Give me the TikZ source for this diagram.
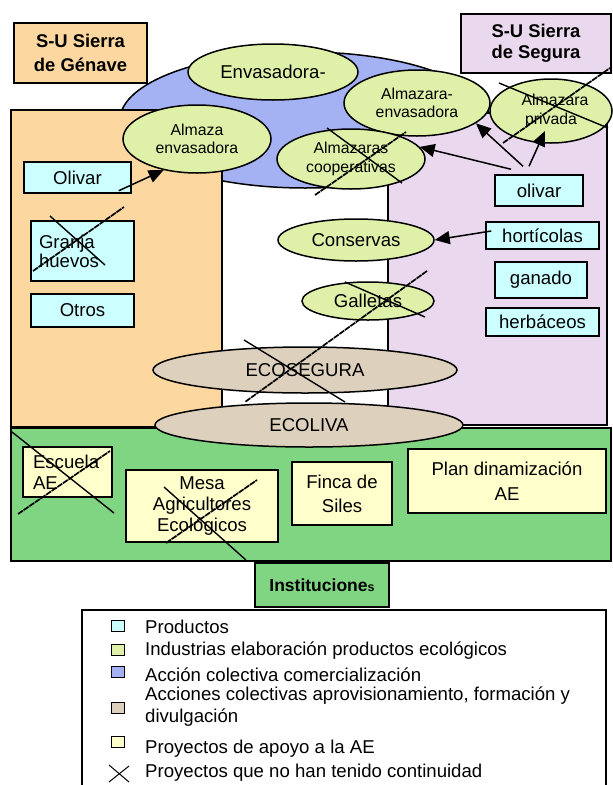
\documentclass[tikz,border=0pt]{standalone}
\usepackage{fontspec}
\setmainfont{Liberation Sans}
\usetikzlibrary{shapes.geometric,arrows.meta}
\definecolor{orangef}{RGB}{252,216,160}
\definecolor{lavf}{RGB}{234,217,238}
\definecolor{cyanf}{RGB}{204,255,255}
\definecolor{yellowf}{RGB}{255,255,204}
\definecolor{indf}{RGB}{223,240,168}
\definecolor{tanf}{RGB}{221,208,188}
\definecolor{bluef}{RGB}{164,178,244}
\definecolor{greenf}{RGB}{128,213,130}
\begin{document}
\begin{tikzpicture}[x=1pt,y=-1pt,
  big/.style={font=\fontsize{18.6}{21}\selectfont},
  small/.style={font=\fontsize{15.8}{18.5}\selectfont},
  panel/.style={draw, line width=1.5pt, inner sep=0pt},
  box/.style={draw, line width=1.5pt, inner sep=1pt, align=center, big},
  prod/.style={box, fill=cyanf},
  proj/.style={box, fill=yellowf},
  ind/.style={ellipse, draw, line width=1.5pt, fill=indf, inner sep=0pt, align=center},
  coll/.style={ellipse, draw, line width=1.5pt, fill=tanf, inner sep=0pt, align=center, big},
  titlebox/.style={draw, line width=1.5pt, inner sep=1pt, align=center, font=\bfseries\fontsize{18.4}{24}\selectfont},
  arr/.style={line width=1.5pt, -{Triangle[length=15pt,width=13pt]}},
  crossl/.style={line width=1.4pt},
  crossd/.style={line width=1.7pt, dash pattern=on 6pt off 0.8pt},
  legsq/.style={draw, line width=1.5pt, minimum width=13pt, minimum height=11pt, inner sep=0pt},
  legtext/.style={anchor=west, inner sep=0pt, font=\fontsize{18.6}{22}\selectfont, align=left},
]
\useasboundingbox (0,0) rectangle (613,785);

% collective commercialisation (blue)
\node[ellipse, draw, line width=1.5pt, fill=bluef, minimum width=370pt, minimum height=136pt, inner sep=0pt] (blue) at (305,120) {};

% panels
\node[panel, fill=orangef, minimum width=211pt, minimum height=317pt] (panelL) at (116.5,268.5) {};
\node[panel, fill=lavf, minimum width=219pt, minimum height=312pt] (panelR) at (497.5,269) {};
\node[panel, fill=greenf, minimum width=600pt, minimum height=133pt] (panelG) at (311,494.5) {};

% titles
\node[titlebox, fill=orangef, minimum width=133pt, minimum height=60pt] (titleL) at (80.5,53) {S-U Sierra\\de Génave};
\node[titlebox, fill=lavf, minimum width=150pt, minimum height=59pt, font=\bfseries\fontsize{18.4}{21}\selectfont] (titleR) at (536,43.5) {S-U Sierra\\de Segura};
\node[draw, line width=1.5pt, fill=greenf, minimum width=134pt, minimum height=44pt, inner sep=0pt, font=\bfseries\fontsize{17.5}{20}\selectfont] (inst) at (322,585) {Institucione{\fontsize{12.5}{14}\selectfont s}};

% industries (green-yellow ellipses)
\node[ind, big, minimum width=170pt, minimum height=56pt] (envas) at (273,72) {Envasadora-};
\node[ind, small, minimum width=148pt, minimum height=68pt] (almazaEnv) at (197,139) {Almaza\\envasadora};
\node[ind, small, minimum width=146pt, minimum height=66pt] (almazaraEnv) at (417,103) {Almazara-\\envasadora};
\node[ind, small, minimum width=122pt, minimum height=64pt] (privada) at (551,111) {\hspace*{8pt}Almazara\\privada};
\node[ind, small, minimum width=148pt, minimum height=60pt] (coop) at (351,159) {Almazaras\\cooperativas};
\node[ind, big, minimum width=156pt, minimum height=42pt] (conservas) at (356,240) {Conservas};
\node[ind, big, minimum width=132pt, minimum height=38pt] (galletas) at (368,301) {Galletas};

% collective actions (tan ellipses)
\node[coll, minimum width=304pt, minimum height=46pt] (ecoseg) at (305,370) {ECOSEGURA};
\node[coll, minimum width=308pt, minimum height=44pt] (ecoliva) at (309,425) {ECOLIVA};

% products
\node[prod, minimum width=107pt, minimum height=31pt] (olivarL) at (77.5,177.5) {Olivar};
\node[prod, minimum width=103pt, minimum height=60pt, text width=87pt, align=left, font=\fontsize{18.6}{19}\selectfont] (granja) at (82.5,251) {Granja\\huevos};
\node[prod, minimum width=103pt, minimum height=33pt] (otros) at (82.5,310.5) {Otros};
\node[prod, minimum width=88pt, minimum height=31pt] (olivarR) at (539,190.5) {olivar};
\node[prod, minimum width=113pt, minimum height=27pt] (hort) at (542.5,235.5) {hortícolas};
\node[prod, minimum width=92pt, minimum height=36pt] (ganado) at (541,280) {ganado};
\node[prod, minimum width=113pt, minimum height=28pt] (herb) at (542.5,322) {herbáceos};

% projects
\node[proj, minimum width=89pt, minimum height=50pt, text width=69pt, align=left] (escuela) at (67.5,472) {Escuela\\AE};
\node[proj, minimum width=152pt, minimum height=72pt] (mesa) at (202,506) {Mesa\\Agricultores\\Ecológicos};
\node[proj, minimum width=100pt, minimum height=63pt, font=\fontsize{18.6}{24}\selectfont] (finca) at (342,493.5) {Finca de\\Siles};
\node[proj, minimum width=198pt, minimum height=64pt, font=\fontsize{18.6}{25}\selectfont] (plan) at (507,481) {Plan dinamización\\AE};

% arrows
\draw[arr] ([xshift=-13pt,yshift=3pt]olivarL.south east) -- (almazaEnv.-137);
\draw[arr] ([xshift=-28pt,yshift=5pt]olivarR.north) -- (coop.10);
\draw[arr] ([xshift=-16pt,yshift=8pt]olivarR.north) -- (almazaraEnv.-19);
\draw[arr] ([xshift=-10pt,yshift=8pt]olivarR.north) -- ([xshift=-6pt,yshift=-20pt]privada.center);
\draw[arr] ([xshift=6pt,yshift=4.5pt]hort.west) -- (conservas.east);

% crosses: projects without continuity
\draw[crossl] (499,83) -- (608,128);
\draw[crossd] (503,143) -- (610,68);
\draw[crossl] (327,128) -- (402,183);
\draw[crossd] (315,195) -- (406,132);
\draw[crossl] (50,216) -- (105,265);
\draw[crossd] (33,271) -- (124,207);
\draw[crossl] (345,282) -- (425,317);
\draw[crossd] (427,271) -- (245,402);
\draw[crossl] (244,340) -- (345,402);
\draw[crossl] (12,432) -- (114,513);
\draw[crossd] (18,514) -- (110,451);
\draw[crossl] (164,487) -- (246,560);
\draw[crossd] (166,543) -- (257,480);

% legend
\draw[line width=1.3pt] (82,790) -- (82,610) -- (606,610) -- (606,790);
\node[legsq, fill=cyanf] (lq1) at (118,626) {};
\node[legsq, fill=indf] (lq2) at (118,650) {};
\node[legsq, fill=bluef] (lq3) at (118,672) {};
\node[legsq, fill=tanf] (lq4) at (118,708) {};
\node[legsq, fill=yellowf] (lq5) at (118,742) {};
\draw[line width=1pt] (109,765) -- (129,782);
\draw[line width=1pt] (109,782) -- (129,766);
\node[legtext] (lt1) at (145,627) {Productos};
\node[legtext] (lt2) at (145,651) {Industrias elaboración productos ecológicos};
\node[legtext] (lt3) at (145,675) {Acción colectiva comercialización};
\node[legtext] (lt4) at (145,707) {Acciones colectivas aprovisionamiento, formación y\\divulgación};
\node[legtext] (lt5) at (145,749) {Proyectos de apoyo a la AE};
\node[legtext] (lt6) at (145,773) {Proyectos que no han tenido continuidad};
\end{tikzpicture}
\end{document}
